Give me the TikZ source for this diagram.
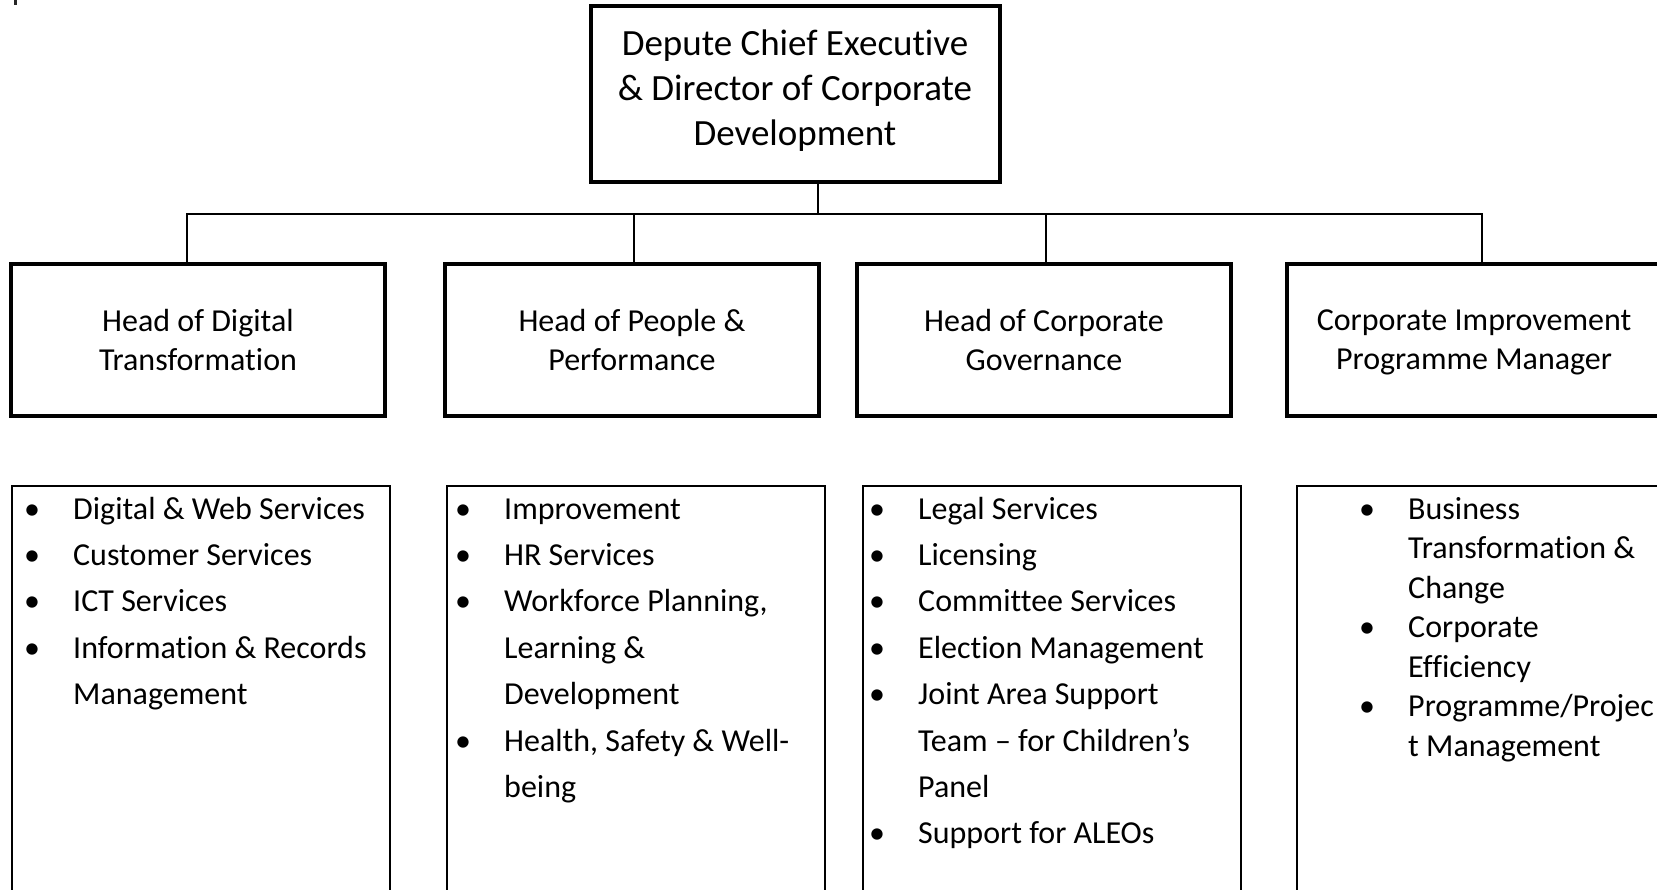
\documentclass[tikz,border=0pt]{standalone}
\usepackage{fontspec}
\setmainfont{Carlito}[RawFeature={-liga;-clig;-calt;-dlig}]
\usepackage{array}
\tikzset{
  topbox/.style={draw, line width=4pt, minimum width=409pt, minimum height=176pt, inner sep=0pt, align=center, font=\fontsize{37}{45}\selectfont},
  headbox/.style={draw, line width=4pt, minimum width=374.5pt, minimum height=151pt, inner sep=0pt, align=center, text depth=-2.5pt, font=\fontsize{32}{39}\selectfont},
  listbox/.style={draw, line width=1.6pt, minimum width=378pt, minimum height=520pt, inner sep=0pt, anchor=north west},
  listtext/.style={inner sep=0pt, anchor=north west, font=\fontsize{32}{46.4}\selectfont},
  listtextb/.style={inner sep=0pt, anchor=north west, font=\fontsize{32}{39.5}\selectfont},
  link/.style={line width=1.3pt}
}
\newcolumntype{B}{@{}>{\centering\arraybackslash}p{24pt}@{\hspace{29pt}}l@{}}
\begin{document}
\begin{tikzpicture}[x=1pt, y=-1pt]
\useasboundingbox (0,0) rectangle (1657,890);
\clip (0,0) rectangle (1657,890);
\fill[black!85] (13.5,0) rectangle (16.5,5.5);

\node[topbox, text depth=12pt] (top) at (795,94) {Depute Chief Executive\\ \& Director of Corporate\\ Development};

\node[headbox] (h1) at (198,340) {Head of Digital\\ Transformation};
\node[headbox] (h2) at (632,340) {Head of People \&\\ Performance};
\node[headbox] (h3) at (1044,340) {Head of Corporate\\ Governance};
\node[headbox] (h4) at (1474,340) {Corporate Improvement\\ Programme Manager};

\coordinate (bus) at (818,214);
\coordinate (d1) at (187,214);
\coordinate (d2) at (634,214);
\coordinate (d3) at (1046,214);
\coordinate (d4) at (1482,214);
\draw[link] (bus |- top.south) -- (bus);
\draw[link] (d1 |- h1.north) -- (d1) -- (d4) -- (d4 |- h4.north);
\draw[link] (d2) -- (d2 |- h2.north);
\draw[link] (d3) -- (d3 |- h3.north);

\node[listbox] (b1) at (11,485) {};
\node[listbox] (b2) at (446,485) {};
\node[listbox] (b3) at (862,485) {};
\node[listbox] (b4) at (1296,485) {};

\node[listtext] (t1) at (20,486.5) {\begin{tabular}{B}
\textbullet & Digital \& Web Services\\
\textbullet & Customer Services\\
\textbullet & ICT Services\\
\textbullet & Information \& Records\\
 & Management
\end{tabular}};

\node[listtext] (t2) at (451,486.5) {\begin{tabular}{B}
\textbullet & Improvement\\
\textbullet & HR Services\\
\textbullet & Workforce Planning,\\
 & Learning \&\\
 & Development\\
\textbullet & Health, Safety \& Well-\\
 & being
\end{tabular}};

\node[listtext] (t3) at (865,486.5) {\begin{tabular}{B}
\textbullet & Legal Services\\
\textbullet & Licensing\\
\textbullet & Committee Services\\
\textbullet & Election Management\\
\textbullet & Joint Area Support\\
 & Team – for Children’s\\
 & Panel\\
\textbullet & Support for ALEOs
\end{tabular}};

\node[listtextb] (t4) at (1355,491.5) {\begin{tabular}{B}
\textbullet & Business\\
 & Transformation \&\\
 & Change\\
\textbullet & Corporate\\
 & Efficiency\\
\textbullet & Programme/Projec\\
 & t Management
\end{tabular}};
\end{tikzpicture}
\end{document}
